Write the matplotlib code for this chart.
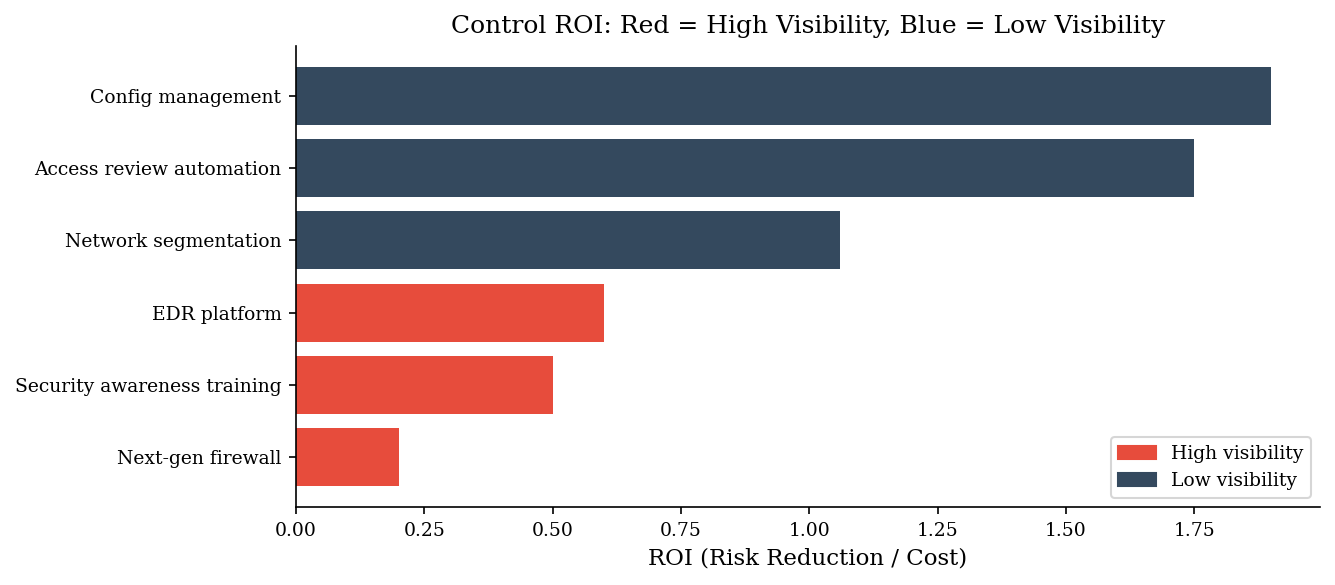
import matplotlib
matplotlib.use("Agg")
import matplotlib.pyplot as plt
from matplotlib.patches import Patch

plt.rcParams['font.family'] = ['DejaVu Serif']

# data (bottom to top)
controls = ["Next-gen firewall", "Security awareness training", "EDR platform",
            "Network segmentation", "Access review automation", "Config management"]
roi = [0.20, 0.50, 0.60, 1.06, 1.75, 1.90]
visibility = ["High", "High", "High", "Low", "Low", "Low"]

RED = "#e74c3c"
BLUE = "#34495e"
colors = [RED if v == "High" else BLUE for v in visibility]

fig = plt.figure(figsize=(8.9, 3.9), dpi=150)
ax = fig.add_axes([0.2217, 0.1333, 0.7671, 0.7881])

ax.barh(controls, roi, color=colors, height=0.8)

ax.set_xlabel("ROI (Risk Reduction / Cost)", fontsize=11)
ax.set_title("Control ROI: Red = High Visibility, Blue = Low Visibility", fontsize=12)
ax.tick_params(labelsize=9)
ax.spines['top'].set_visible(False)
ax.spines['right'].set_visible(False)

handles = [Patch(color=RED, label="High visibility"), Patch(color=BLUE, label="Low visibility")]
ax.legend(handles=handles, loc="lower right", fontsize=9)

fig.savefig("out.png", dpi=150)
